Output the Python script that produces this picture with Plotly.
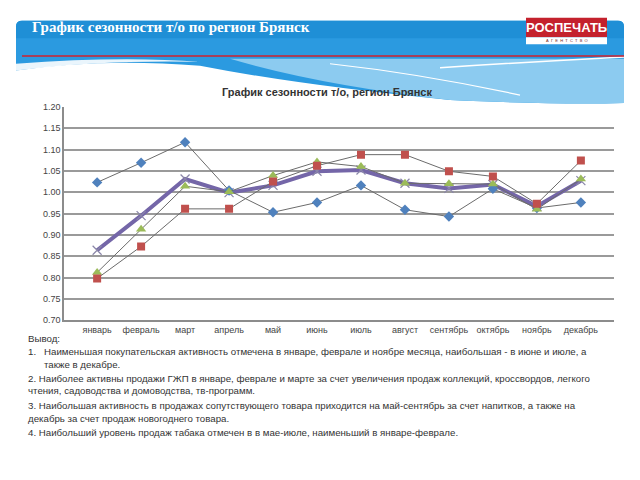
import plotly.graph_objects as go

W, H = 640, 480

months = ["январь", "февраль", "март", "апрель", "май", "июнь", "июль",
          "август", "сентябрь", "октябрь", "ноябрь", "декабрь"]
series_blue = [1.023, 1.069, 1.117, 1.004, 0.953, 0.976, 1.016, 0.959, 0.943, 1.008, 0.963, 0.976]
series_red = [0.798, 0.873, 0.961, 0.961, 1.025, 1.062, 1.088, 1.088, 1.049, 1.037, 0.973, 1.074]
series_green = [0.812, 0.913, 1.014, 1.001, 1.039, 1.071, 1.060, 1.021, 1.020, 1.019, 0.960, 1.031]
series_purple = [0.864, 0.945, 1.031, 0.999, 1.016, 1.049, 1.052, 1.021, 1.009, 1.018, 0.967, 1.027]
y_ticks = [0.70, 0.75, 0.80, 0.85, 0.90, 0.95, 1.00, 1.05, 1.10, 1.15, 1.20]

chart_title = "График сезонности т/о, регион Брянск"
slide_title = "График сезонности т/о по регион Брянск"
notes = [
    ("Вывод:", 26),
    ("1.", 26),
    ("Наименьшая покупательская активность отмечена в январе, феврале и ноябре месяца, наибольшая - в июне и июле, а", 42),
    ("также в декабре.", 42),
    ("2. Наиболее активны продажи ГЖП в январе, феврале и марте за счет увеличения продаж коллекций, кроссвордов, легкого", 26),
    ("чтения, садоводства и домоводства, тв-программ.", 26),
    ("3. Наибольшая активность в продажах сопутствующего товара приходится на май-сентябрь за счет напитков, а также на", 26),
    ("декабрь за счет продаж новогоднего товара.", 26),
    ("4. Наибольший уровень продаж табака отмечен в в мае-июле, наименьший в январе-феврале.", 26),
]
note_y = [341, 354, 354, 367, 381, 394, 409, 422, 437]


def px(x):
    return x / W


def py(y):
    return 1 - y / H


def path(points, close=True):
    s = ""
    for cmd, pts in points:
        s += cmd + " " + " ".join(f"{px(a):.5f},{py(b):.5f}" for a, b in pts) + " "
    if close:
        s += "Z"
    return s


fig = go.Figure()

line_gray = "#6b6b6b"
fig.add_trace(go.Scatter(x=months, y=series_purple, mode="lines+markers",
                         line=dict(color="#7466a8", width=4),
                         marker=dict(symbol="x-thin", size=9, color="#7a7a9a",
                                     line=dict(width=1.2, color="#8a86a8")),
                         showlegend=False))
fig.add_trace(go.Scatter(x=months, y=series_blue, mode="lines+markers",
                         line=dict(color=line_gray, width=1),
                         marker=dict(symbol="diamond", size=8, color="#4f81bd"),
                         showlegend=False))
fig.add_trace(go.Scatter(x=months, y=series_green, mode="lines+markers",
                         line=dict(color=line_gray, width=1),
                         marker=dict(symbol="triangle-up", size=9, color="#9bbb59"),
                         showlegend=False))
fig.add_trace(go.Scatter(x=months, y=series_red, mode="lines+markers",
                         line=dict(color=line_gray, width=1),
                         marker=dict(symbol="square", size=8, color="#c0504d"),
                         showlegend=False))

shapes = []
shapes.append(dict(type="path", xref="paper", yref="paper", layer="below",
                   path=path([("M", [(16, 22)]), ("Q", [(16, 16), (22, 16)]), ("L", [(618, 16)]),
                              ("Q", [(624, 16), (624, 22)]), ("L", [(624, 100)]),
                              ("Q", [(560, 102), (450, 97)]), ("Q", [(300, 82), (200, 62)]),
                              ("Q", [(100, 54), (16, 67)])]),
                   fillcolor="#2b9ae0", line=dict(width=0)))
shapes.append(dict(type="path", xref="paper", yref="paper", layer="below",
                   path=path([("M", [(16, 22)]), ("Q", [(16, 16), (22, 16)]), ("L", [(618, 16)]),
                              ("Q", [(624, 16), (624, 22)]), ("L", [(624, 34)]), ("L", [(16, 34)])]),
                   fillcolor="#1f8fd6", line=dict(width=0)))
shapes.append(dict(type="path", xref="paper", yref="paper", layer="below",
                   path=path([("M", [(230, 55)]), ("L", [(624, 55)]), ("L", [(624, 100)]),
                              ("Q", [(560, 102), (450, 97)]), ("Q", [(320, 82), (230, 55)])]),
                   fillcolor="#8ccbf0", line=dict(width=0)))
shapes.append(dict(type="path", xref="paper", yref="paper", layer="below",
                   path=path([("M", [(16, 67)]), ("Q", [(100, 56), (200, 58)]), ("Q", [(120, 52), (16, 60)])]),
                   fillcolor="white", line=dict(width=0), opacity=0.9))
shapes.append(dict(type="path", xref="paper", yref="paper", layer="below",
                   path=path([("M", [(440, 64)]), ("Q", [(530, 58), (624, 53)])], close=False),
                   line=dict(color="white", width=1.5)))
shapes.append(dict(type="path", xref="paper", yref="paper", layer="below",
                   path=path([("M", [(330, 60)]), ("Q", [(420, 70), (520, 92)])], close=False),
                   line=dict(color="white", width=1.2)))
shapes.append(dict(type="line", xref="paper", yref="paper", layer="below",
                   x0=px(22), x1=px(624), y0=py(52), y1=py(52),
                   line=dict(color="#d0202e", width=1.5)))
shapes.append(dict(type="rect", xref="paper", yref="paper", layer="below",
                   x0=px(526), x1=px(607), y0=py(13), y1=py(33),
                   fillcolor="#c4212d", line=dict(width=0)))
shapes.append(dict(type="rect", xref="paper", yref="paper", layer="below",
                   x0=px(526), x1=px(607), y0=py(33), y1=py(40),
                   fillcolor="white", line=dict(width=0)))

annotations = [
    dict(text=f"<b>{slide_title}</b>", x=px(30), y=py(22), xref="paper", yref="paper",
         xanchor="left", yanchor="middle", showarrow=False,
         font=dict(family="Liberation Serif", size=15, color="white")),
    dict(text="<b>РОСПЕЧАТЬ</b>", x=px(566.5), y=py(23), xref="paper", yref="paper",
         xanchor="center", yanchor="middle", showarrow=False,
         font=dict(family="Liberation Sans", size=13, color="white")),
    dict(text="А  Г  Е  Н  Т  С  Т  В  О", x=px(566.5), y=py(36.5), xref="paper", yref="paper",
         xanchor="center", yanchor="middle", showarrow=False,
         font=dict(family="Liberation Sans", size=4, color="#7a1d24")),
    dict(text=f"<b>{chart_title}</b>", x=px(327), y=py(89), xref="paper", yref="paper",
         xanchor="center", yanchor="middle", showarrow=False,
         font=dict(family="Liberation Sans", size=11, color="#333333")),
]
for (t, x), y in zip(notes, note_y):
    annotations.append(dict(text=t, x=px(x), y=py(y), xref="paper", yref="paper",
                            xanchor="left", yanchor="middle", showarrow=False,
                            font=dict(family="Liberation Sans", size=9.7, color="#333333")))

fig.update_layout(
    width=W, height=H,
    margin=dict(l=0, r=0, t=0, b=0),
    paper_bgcolor="white", plot_bgcolor="white",
    shapes=shapes, annotations=annotations,
    xaxis=dict(domain=[px(64), px(614)], type="category", showgrid=False,
               showline=True, linecolor="#8c8c8c", linewidth=1.5, ticks="",
               tickfont=dict(family="Liberation Sans", size=9, color="#444444"),
               fixedrange=True),
    yaxis=dict(domain=[py(322), py(104)], range=[0.70, 1.20], tickvals=y_ticks,
               tickformat=".2f", showgrid=True, gridcolor="#9a9a9a", gridwidth=1.5,
               showline=True, linecolor="#8c8c8c", linewidth=1.5, ticks="",
               zeroline=False,
               tickfont=dict(family="Liberation Sans", size=9, color="#444444"),
               fixedrange=True),
)

fig.write_html("out.html", config={"displayModeBar": False},
               post_script="document.body.style.margin='0';document.body.style.overflow='hidden';")
